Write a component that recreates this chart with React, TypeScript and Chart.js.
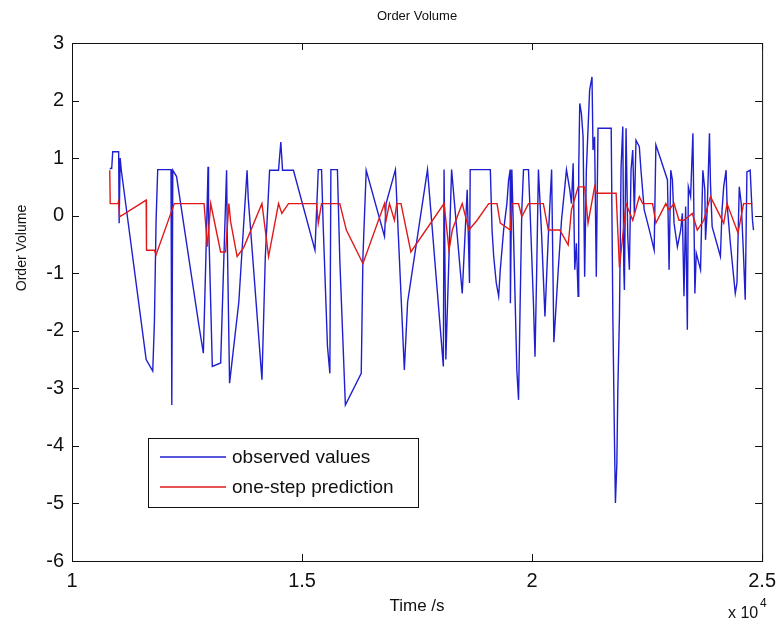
import React, { useEffect, useRef } from "react";
import { Chart, registerables } from "chart.js";

Chart.register(...registerables);

// Time in seconds
const observedTime = [
  10820, 10863, 10885, 11014, 11025, 11047, 11073, 11612, 11755, 11791, 11828, 11863,
  12152, 12169, 12191, 12273, 12763, 12855, 12907, 12942, 12957, 12968, 13050, 13231,
  13302, 13360, 13378, 13425, 13626, 13805, 13831, 14129, 14202, 14295, 14489, 14539,
  14576, 14813, 15281, 15353, 15424, 15461, 15553, 15605, 15627, 15769, 15821, 15942,
  16287, 16324, 16395, 16792, 16827, 17030, 17224, 17295, 17727, 18072, 18087, 18126,
  18251, 18482, 18590, 18640, 18655,
  19093, 19130, 19166, 19222, 19274, 19309, 19345, 19382, 19453, 19490, 19525, 19529,
  19561, 19598, 19669, 19706, 19741, 19777, 19814, 19922, 19956, 20030, 20064, 20101,
  20138, 20209, 20280, 20353, 20425, 20474, 20569, 20640, 20712, 20748, 20820, 20856,
  20893, 20928, 20964, 21001, 21014, 21036, 21072, 21109, 21143, 21180, 21251, 21303,
  21325, 21359, 21396, 21433, 21720, 21756, 21791, 21812, 21843, 21864, 21899, 21935,
  21972, 21994, 22007, 22043, 22080, 22115, 22151, 22188, 22223, 22259, 22331, 22367,
  22438, 22512, 22583, 22654, 22691, 22799, 22943, 22978, 23015, 23051, 23086, 23159,
  23230, 23267, 23302, 23338, 23375, 23397, 23446, 23496, 23539, 23569, 23626, 23662,
  23712, 23755, 23770, 23807, 23856, 23878, 23914, 24094, 24130, 24165, 24217, 24238,
  24310, 24417, 24454, 24504, 24547, 24597, 24633, 24670, 24741, 24791, 24813,
];
const observedValues = [
  0.82, 0.82, 1.11, 1.11, -0.13, 1.0, 0.78, -2.5, -2.7, -1.86, -0.07, 0.8,
  0.8, -3.29, 0.79, 0.68, -1.93, -2.39, -0.82, 0.33, 0.85, -0.07, -2.62, -2.56,
  -0.71, 0.79, -0.5, -2.91, -1.5, 0.79, 0.3, -2.85, -0.71, 0.79, 0.79, 1.28,
  0.79, 0.79, -0.6, 0.8, 0.8, -0.2, -2.27, -2.74, 0.8, 0.8, -0.77, -3.29,
  -2.74, -0.71, 0.79, -0.36, 0.21, 0.8, -2.68, -1.5, 0.8, -2.62, 0.8, -2.5,
  0.8, -1.35, 0.45, -1.17, 0.8,
  0.8, -0.25, -0.71, -1.17, -1.4, -0.94, -0.6, -0.25, 0.21, 0.62, 0.8, -1.52,
  0.8, -0.36, -2.68, -3.2, -1.52, 0.1, 0.8, 0.8, 0.1, -1.52, -2.45, -0.94,
  0.8, -0.36, -1.75, -0.36, 0.8, -2.2, -0.94, -0.08, 0.5, 0.8, 0.45, 0.21,
  0.91, -0.94, -0.48, -1.4, 0.79, 1.95, 1.78, 1.37, -1.06, 0.79, 2.18, 2.41,
  1.14, 1.37, -1.06, 1.52, 1.52, -1.75, -3.89, -4.99, -4.3, -3.03, -1.75, 0.85,
  1.55, -0.94, -1.29, 1.52, -0.36, -0.94, 0.79, 1.14, 0.04, 1.31, 1.2, 0.79,
  0.1, -0.13, -0.36, -0.6, 1.23, 0.97, 0.62, -0.94, 0.79, 0.62, -0.13, -0.54,
  -0.25, 0.04, -1.4, 0.16, -1.98, 0.5, 0.33, 1.43, -1.35, -0.65, -0.83, -0.94,
  0.79, 0.45, -0.42, 0.1, 1.43, 0.56, -0.19, -0.71, 0.1, 0.5, 0.79, 0.21,
  -0.48, -1.35, -1.17, 0.5, 0.21, -0.71, -1.46, 0.76, 0.79, -0.08, -0.25,
];

const predictionTime = [
  10820, 10831, 10999, 11014, 11036, 11612, 11619, 11791, 11828, 12223, 12871, 12942,
  13015, 13231, 13339, 13410, 13447, 13589, 13734, 14129, 14273, 14489, 14561, 14705,
  15316, 15353, 15424, 15821, 15963, 16324, 16792, 16827, 16900, 17008, 17058, 17151,
  17366, 18087, 18195, 18266, 18482, 18627, 18806, 19058, 19238, 19309, 19525, 19561,
  19706, 19777, 19922, 20245, 20353, 20604, 20785, 20856, 21001, 21143, 21217, 21359,
  21396, 21827, 21899, 22043, 22188, 22331, 22404, 22620, 22691, 22907, 22978, 23086,
  23194, 23302, 23483, 23591, 23733, 23878, 24165, 24238, 24476, 24597, 24791,
];
const predictionValues = [
  0.79, 0.21, 0.21, 0.25, -0.02, 0.27, -0.6, -0.6, -0.68, 0.21, 0.21, -0.54,
  0.21, -0.63, -0.63, 0.21, -0.1, -0.71, -0.55, 0.21, -0.71, 0.21, 0.04, 0.21,
  0.21, -0.13, 0.21, 0.21, -0.25, -0.83, 0.21, -0.08, 0.21, -0.08, 0.21, 0.21,
  -0.63, 0.21, -0.6, -0.25, 0.21, -0.25, -0.08, 0.21, 0.21, -0.13, -0.25, 0.21,
  0.21, -0.02, 0.21, 0.21, -0.25, -0.25, -0.51, 0.1, 0.5, 0.5, -0.13, 0.5,
  0.39, 0.39, -0.9, 0.21, -0.08, 0.33, 0.21, 0.21, -0.13, 0.21, 0.1, 0.21,
  -0.08, -0.08, 0.04, -0.25, -0.08, 0.33, -0.13, 0.21, -0.3, 0.21, 0.21,
];

const xTickValues = [10000, 15000, 20000, 25000];
const yTickValues = [-6, -5, -4, -3, -2, -1, 0, 1, 2, 3];

const titleText = "Order Volume";
const xLabel = "Time /s";
const yLabel = "Order Volume";
const legendLabels = ["observed values", "one-step prediction"];

const BLUE = "#1f1fd0";
const RED = "#e01a1a";
const FONT = "'Liberation Sans', Arial, sans-serif";

export default function App() {
  const ref = useRef<HTMLCanvasElement | null>(null);

  useEffect(() => {
    const canvas = ref.current;
    if (!canvas) return;

    const decor = {
      id: "matlabDecor",
      afterDraw(chart: any) {
        const { ctx, chartArea } = chart;
        const { left, right, top, bottom } = chartArea;
        const xs = chart.scales.x;
        const ys = chart.scales.y;
        ctx.save();
        ctx.strokeStyle = "#111";
        ctx.lineWidth = 1;
        ctx.strokeRect(left + 0.5, top + 0.5, right - left, bottom - top);
        const tl = 7;
        ctx.beginPath();
        for (const v of xTickValues) {
          const px = Math.round(xs.getPixelForValue(v)) + 0.5;
          ctx.moveTo(px, bottom);
          ctx.lineTo(px, bottom - tl);
          ctx.moveTo(px, top);
          ctx.lineTo(px, top + tl);
        }
        for (const v of yTickValues) {
          const py = Math.round(ys.getPixelForValue(v)) + 0.5;
          ctx.moveTo(left, py);
          ctx.lineTo(left + tl, py);
          ctx.moveTo(right, py);
          ctx.lineTo(right - tl, py);
        }
        ctx.stroke();

        ctx.fillStyle = "#111";
        ctx.textAlign = "center";
        ctx.textBaseline = "middle";
        ctx.font = `13px ${FONT}`;
        ctx.fillText(titleText, (left + right) / 2, 16);
        ctx.font = `17px ${FONT}`;
        ctx.fillText(xLabel, (left + right) / 2, 606);
        ctx.font = `14px ${FONT}`;
        ctx.save();
        ctx.translate(22, 248);
        ctx.rotate(-Math.PI / 2);
        ctx.fillText(yLabel, 0, 0);
        ctx.restore();

        ctx.textAlign = "left";
        ctx.font = `16px ${FONT}`;
        ctx.fillText("x 10", 728, 614);
        ctx.font = `12px ${FONT}`;
        ctx.fillText("4", 760, 604);

        // legend
        const lx = 148, ly = 438, lw = 270, lh = 69;
        ctx.fillStyle = "#fff";
        ctx.fillRect(lx, ly, lw, lh);
        ctx.strokeStyle = "#111";
        ctx.lineWidth = 1;
        ctx.strokeRect(lx + 0.5, ly + 0.5, lw, lh);
        const rows = [
          { label: legendLabels[0], color: BLUE, y: 457 },
          { label: legendLabels[1], color: RED, y: 487 },
        ];
        ctx.font = `19px ${FONT}`;
        for (const r of rows) {
          ctx.beginPath();
          ctx.strokeStyle = r.color;
          ctx.lineWidth = 1.5;
          ctx.moveTo(160, r.y);
          ctx.lineTo(226, r.y);
          ctx.stroke();
          ctx.fillStyle = "#111";
          ctx.fillText(r.label, 232, r.y + 1);
        }
        ctx.restore();
      },
    };

    const chart = new Chart(canvas, {
      type: "line",
      data: {
        datasets: [
          {
            label: legendLabels[1],
            data: predictionTime.map((t, i) => ({ x: t, y: predictionValues[i] })),
            borderColor: RED,
            borderWidth: 1.4,
            pointRadius: 0,
            tension: 0,
            fill: false,
            order: 0,
          },
          {
            label: legendLabels[0],
            data: observedTime.map((t, i) => ({ x: t, y: observedValues[i] })),
            borderColor: BLUE,
            borderWidth: 1.4,
            pointRadius: 0,
            tension: 0,
            fill: false,
            order: 1,
          },
        ],
      },
      options: {
        animation: false,
        responsive: false,
        devicePixelRatio: 1,
        layout: { padding: { left: 0, top: 43, right: 17, bottom: 0 } },
        plugins: {
          legend: { display: false },
          title: { display: false },
          tooltip: { enabled: false },
        },
        scales: {
          x: {
            type: "linear",
            min: 10000,
            max: 25000,
            afterBuildTicks: (s: any) => {
              s.ticks = xTickValues.map((v) => ({ value: v }));
            },
            afterFit: (s: any) => {
              s.height = 71;
            },
            grid: { display: false, drawTicks: false },
            border: { display: false },
            ticks: {
              color: "#111",
              padding: 8,
              maxRotation: 0,
              autoSkip: false,
              font: { size: 20, family: FONT },
              callback: (v: any) => String(Number(v) / 10000),
            },
          },
          y: {
            type: "linear",
            min: -6,
            max: 3,
            afterBuildTicks: (s: any) => {
              s.ticks = yTickValues.map((v) => ({ value: v }));
            },
            afterFit: (s: any) => {
              s.width = 72;
            },
            grid: { display: false, drawTicks: false },
            border: { display: false },
            ticks: {
              color: "#111",
              padding: 8,
              autoSkip: false,
              font: { size: 20, family: FONT },
              callback: (v: any) => String(v),
            },
          },
        },
      },
      plugins: [decor],
    });

    return () => chart.destroy();
  }, []);

  return (
    <div style={{ position: "fixed", left: 0, top: 0, width: 784, height: 632, background: "#fff" }}>
      <canvas ref={ref} width={784} height={632} />
    </div>
  );
}
